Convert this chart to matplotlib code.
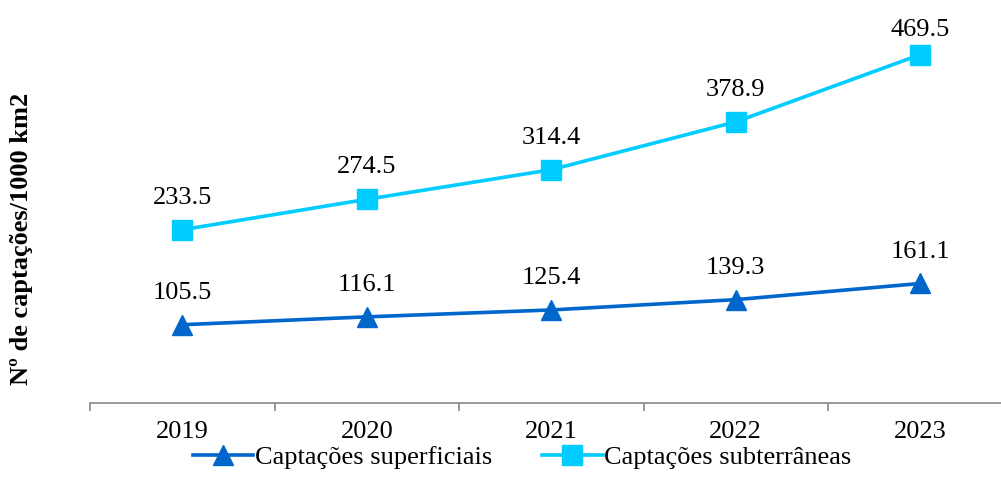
import numpy as np
import matplotlib.pyplot as plt

years = ["2019", "2020", "2021", "2022", "2023"]
superficiais = [105.5, 116.1, 125.4, 139.3, 161.1]
subterraneas = [233.5, 274.5, 314.4, 378.9, 469.5]

plt.rcParams["font.family"] = ["Liberation Serif", "DejaVu Serif"]

fig = plt.figure(figsize=(10.01, 4.94), dpi=100)
ax = fig.add_axes([90 / 1001, 91 / 494, 1 - 90 / 1001, 371 / 494])

x = np.arange(len(years))
ax.plot(x, superficiais, color="#0066CC", lw=2.6, marker="^", ms=14,
        label="Captações superficiais")
ax.plot(x, subterraneas, color="#00CCFF", lw=2.6, marker="s", ms=14,
        label="Captações subterrâneas")

# labels above points; the top one is pushed down by the plot area edge
for series in (superficiais, subterraneas):
    for xi, v in zip(x, series):
        off = 23 if v < 450 else 18
        ax.annotate(f"{v:.1f}", (xi, v), xytext=(0, off), textcoords="offset points",
                    ha="center", va="center", fontsize=19)

ax.set_yticks([])
ax.set_xticks(x)
ax.set_xticklabels(years, fontsize=19)
ax.tick_params(axis="x", which="major", length=0, pad=13)
ax.set_xticks(np.arange(-0.5, 4.0, 1), minor=True)
ax.tick_params(axis="x", which="minor", length=6, color="#888888", width=1.2)
ax.set_ylim(0, 500)
ax.set_xlim(-0.5, -0.5 + (1001 - 90) / 184.5)

for s in ["top", "right", "left"]:
    ax.spines[s].set_visible(False)
ax.spines["bottom"].set_color("#888888")
ax.spines["bottom"].set_linewidth(1.2)

fig.text(22 / 1001, 1 - 239 / 494, "Nº de captações/1000 km2", rotation=90,
         ha="center", va="center", fontsize=19, fontweight="bold")

fig.legend(loc="center", bbox_to_anchor=(522 / 1001, 1 - 457 / 494), ncol=2, frameon=False,
           fontsize=19, handlelength=2.3, handletextpad=0.05, columnspacing=1.9,
           borderaxespad=0)

fig.savefig("out.png", dpi=100)
